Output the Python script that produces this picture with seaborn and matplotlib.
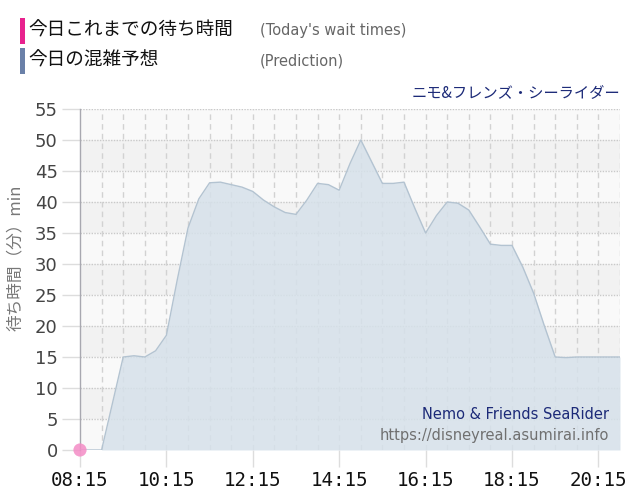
import matplotlib
matplotlib.use("Agg")
import matplotlib.pyplot as plt
from matplotlib.patches import Rectangle
import seaborn as sns
import pandas as pd

# ---- data ----
times = ["08:15", "08:30", "08:45", "09:00", "09:15", "09:30", "09:45", "10:00",
         "10:15", "10:30", "10:45", "11:00", "11:15", "11:30", "11:45", "12:00",
         "12:15", "12:30", "12:45", "13:00", "13:15", "13:30", "13:45", "14:00",
         "14:15", "14:30", "14:45", "15:00", "15:15", "15:30", "15:45", "16:00",
         "16:15", "16:30", "16:45", "17:00", "17:15", "17:30", "17:45", "18:00",
         "18:15", "18:30", "18:45", "19:00", "19:15", "19:30", "19:45", "20:00",
         "20:15", "20:30", "20:45"]
prediction = [0, 0, 0, 7.5, 15, 15.2, 15, 16,
              18.5, 27.4, 35.8, 40.5, 43.1, 43.2, 42.8, 42.4,
              41.7, 40.3, 39.2, 38.3, 38.0, 40.3, 43.0, 42.8,
              41.9, 46.2, 50.0, 46.5, 43.0, 43.0, 43.2, 39.0,
              35.0, 37.8, 40.0, 39.8, 38.7, 36.0, 33.2, 33.0,
              33.0, 29.5, 25.3, 20.0, 15.0, 14.9, 15, 15,
              15, 15, 15]
today_times = ["08:15"]
today_waits = [0]
xtick_labels = ["08:15", "10:15", "12:15", "14:15", "16:15", "18:15", "20:15"]
yticks = [0, 5, 10, 15, 20, 25, 30, 35, 40, 45, 50, 55]

legend_ja = ["今日これまでの待ち時間", "今日の混雑予想"]
legend_en = ["(Today's wait times)", "(Prediction)"]
title_ja = "ニモ&フレンズ・シーライダー"
title_en = "Nemo & Friends SeaRider"
site = "https://disneyreal.asumirai.info"
ylabel = "待ち時間（分）min"


def to_min(t):
    h, m = t.split(":")
    return int(h) * 60 + int(m)


df = pd.DataFrame({"t": [to_min(t) for t in times], "wait": prediction})
df_today = pd.DataFrame({"t": [to_min(t) for t in today_times], "wait": today_waits})

sns.set_theme(style="white")
plt.rcParams["font.family"] = ["Noto Sans CJK JP", "DejaVu Sans"]

fig = plt.figure(figsize=(6.4, 5.0), dpi=100)
ax = fig.add_axes([80 / 640, 50 / 500, 540 / 640, 341 / 500])

xmin, xmax = to_min("08:15"), to_min("20:45")
ax.set_xlim(xmin, xmax)
ax.set_ylim(0, 55)

# alternating bands
for i, lo in enumerate(range(0, 55, 5)):
    ax.axhspan(lo, lo + 5, color="#f9f9f9" if i % 2 == 0 else "#f2f2f2", zorder=0, lw=0)

# grid
for yv in yticks[1:]:
    ax.axhline(yv, color="#c9c9c9", lw=1, ls=(0, (1, 1)), zorder=1)
for xv in range(xmin + 30, xmax + 1, 30):
    ax.axvline(xv, color="#d2d2d2", lw=1, ls=(0, (4, 3)), zorder=1)

# prediction area
ax.fill_between(df["t"], df["wait"], 0, color="#d6e1ea", alpha=0.85, lw=0, zorder=2)
sns.lineplot(data=df, x="t", y="wait", ax=ax, color="#b3c3d1", lw=1.0, zorder=3)

# today's wait times
sns.scatterplot(data=df_today, x="t", y="wait", ax=ax, color="#f48cc6", s=90,
                edgecolor="none", alpha=0.85, zorder=5, clip_on=False)

# axes styling
ax.set_xticks([to_min(t) for t in xtick_labels])
ax.set_xticklabels(xtick_labels, family="DejaVu Sans Mono", fontsize=13.8, color="#111111")
ax.set_yticks(yticks)
ax.set_yticklabels([str(v) for v in yticks], family="DejaVu Sans", fontsize=13, color="#444444")
ax.tick_params(axis="x", length=12, width=1, color="#dddddd", pad=3, bottom=True)
ax.tick_params(axis="y", length=13, width=1, color="#dddddd", pad=3, left=True)
for s in ["top", "right", "bottom"]:
    ax.spines[s].set_visible(False)
ax.spines["left"].set_color("#a8a8b0")
ax.spines["left"].set_linewidth(1)
ax.set_xlabel("")
ax.set_ylabel("")
fig.text(15 / 640, 1 - 258 / 500, ylabel, rotation=90, ha="center", va="center",
         fontsize=12, color="#777777")

# watermark
ax.text(0.98, 0.104, title_en, transform=ax.transAxes, ha="right", va="center",
        family="DejaVu Sans", fontsize=10.5, color="#1c2a78", zorder=6)
ax.text(0.98, 0.043, site, transform=ax.transAxes, ha="right", va="center",
        family="DejaVu Sans", fontsize=10.5, color="#707070", zorder=6)

# legend header
colors = ["#e8228e", "#6a80a8"]
ys = [31, 61]
for col, yc, ja, en in zip(colors, ys, legend_ja, legend_en):
    fig.patches.append(Rectangle((20 / 640, 1 - (yc + 13) / 500), 5 / 640, 26 / 500,
                                 transform=fig.transFigure, color=col, lw=0))
    fig.text(28 / 640, 1 - yc / 500, ja, fontsize=13.4, color="#111111", va="center", ha="left")
    fig.text(260 / 640, 1 - yc / 500, en, fontsize=10.5, color="#666666", va="center",
             ha="left", family="DejaVu Sans")

fig.text(620 / 640, 1 - 93 / 500, title_ja, fontsize=11, color="#1c2a78", ha="right", va="center")

fig.savefig("out.png", dpi=100)
